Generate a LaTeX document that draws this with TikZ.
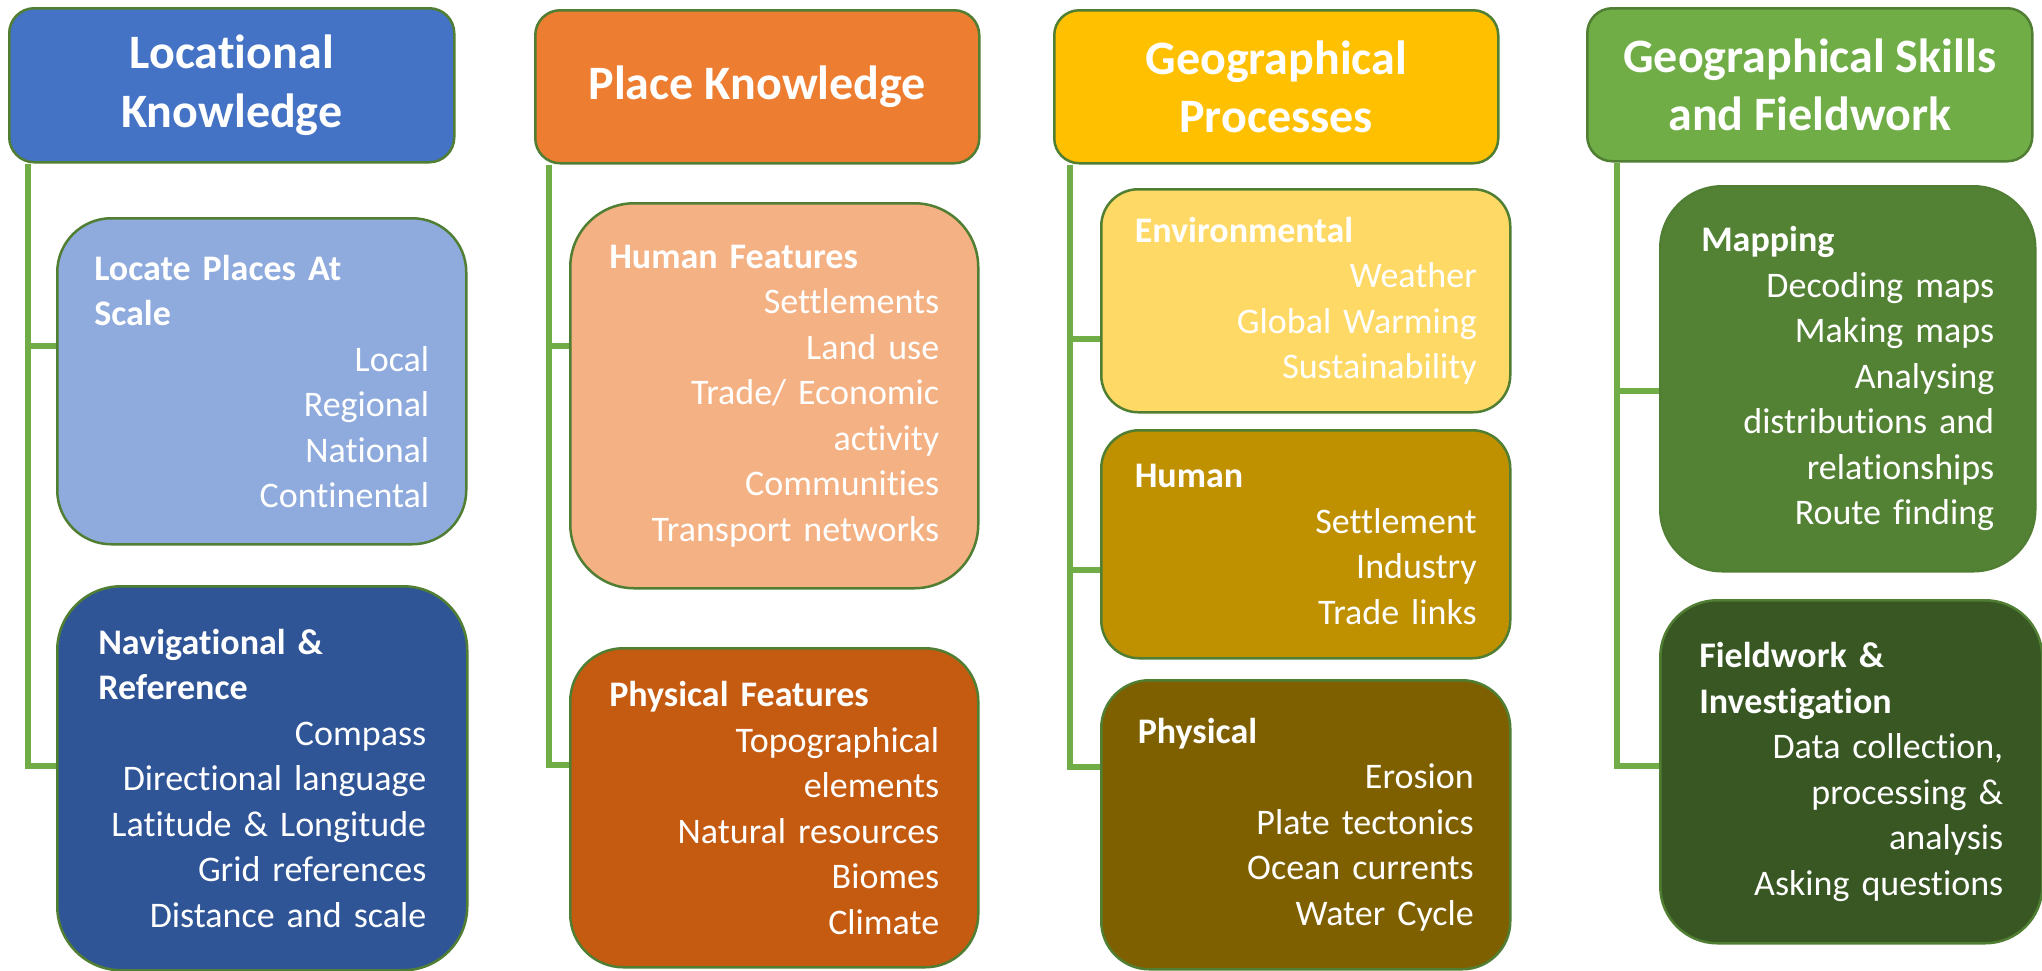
\documentclass[tikz,border=0pt]{standalone}
\usepackage{fontspec}
\setmainfont{Carlito}[Ligatures=NoCommon]
\usetikzlibrary{backgrounds}

\definecolor{edge}{HTML}{507E32}
\definecolor{link}{HTML}{70AD47}
\definecolor{blueH}{HTML}{4472C4}
\definecolor{blueL}{HTML}{8FAADC}
\definecolor{blueD}{HTML}{2F5597}
\definecolor{orangeH}{HTML}{ED7D31}
\definecolor{orangeL}{HTML}{F4B183}
\definecolor{orangeD}{HTML}{C55A11}
\definecolor{goldH}{HTML}{FFC000}
\definecolor{goldL}{HTML}{FFD966}
\definecolor{goldM}{HTML}{BF9000}
\definecolor{goldD}{HTML}{7F6000}
\definecolor{greenH}{HTML}{70AD47}
\definecolor{greenM}{HTML}{548235}
\definecolor{greenD}{HTML}{385723}

% bold left-aligned heading line inside a right-aligned box
\newcommand\boxhead[1]{\makebox[\linewidth][l]{\bfseries #1}}

\begin{document}
\begin{tikzpicture}[x=1pt,y=-1pt,
  header/.style={draw=edge, line width=2.5pt, rounded corners=25pt,
    anchor=north west, inner sep=0pt, text=white, align=center,
    font=\fontsize{48}{58.5}\selectfont\bfseries},
  topic/.style={draw=edge, line width=2.5pt, anchor=north west,
    inner sep=0pt, text=white, align=right,
    font=\fontsize{36}{45.5}\selectfont},
  link/.style={draw=link, line width=5.5pt, line join=miter}]

\useasboundingbox (0,0) rectangle (2042,970);

% column headers
\node[header, fill=blueH, minimum width=445pt, minimum height=154pt] (h1) at (8,7) {Locational\\Knowledge};
\node[header, fill=orangeH, minimum width=444pt, minimum height=153pt] (h2) at (534,9) {Place Knowledge};
\node[header, fill=goldH, minimum width=444pt, minimum height=153pt] (h3) at (1053,9) {Geographical\\Processes};
\node[header, fill=greenH, minimum width=445pt, minimum height=153pt] (h4) at (1586,7) {Geographical Skills\\and Fieldwork};

% locational knowledge
\node[topic, fill=blueL, minimum width=409pt, minimum height=326pt, rounded corners=54pt, text width=335pt] (b11) at (56,217)
  {\boxhead{Locate Places At}\\\boxhead{Scale}\\Local\\Regional\\National\\Continental};
\node[topic, fill=blueD, minimum width=410pt, minimum height=384pt, rounded corners=64pt, text width=328pt] (b12) at (56,585)
  {\boxhead{Navigational \&}\\\boxhead{Reference}\\Compass\\Directional language\\Latitude \& Longitude\\Grid references\\Distance and scale};

% place knowledge
\node[topic, fill=orangeL, minimum width=408pt, minimum height=385pt, rounded corners=64pt, text width=330pt] (b21) at (569,202)
  {\boxhead{Human Features}\\Settlements\\Land use\\Trade/ Economic\\activity\\Communities\\Transport networks};
\node[topic, fill=orangeD, minimum width=408pt, minimum height=319pt, rounded corners=53pt, text width=330pt] (b22) at (569,647)
  {\boxhead{Physical Features}\\Topographical\\elements\\Natural resources\\Biomes\\Climate};

% geographical processes
\node[topic, fill=goldL, minimum width=409pt, minimum height=223pt, rounded corners=37pt, text width=342pt] (b31) at (1100,188)
  {\boxhead{Environmental}\\Weather\\Global Warming\\Sustainability};
\node[topic, fill=goldM, minimum width=409pt, minimum height=228pt, rounded corners=38pt, text width=342pt] (b32) at (1100,429)
  {\boxhead{Human}\\Settlement\\Industry\\Trade links};
\node[topic, fill=goldD, minimum width=409pt, minimum height=289pt, rounded corners=48pt, text width=336pt] (b33) at (1100,679)
  {\boxhead{Physical}\\Erosion\\Plate tectonics\\Ocean currents\\Water Cycle};

% skills and fieldwork
\node[topic, fill=greenM, minimum width=375pt, minimum height=385pt, rounded corners=62pt, text width=293pt] (b41) at (1659,185)
  {\boxhead{Mapping}\\Decoding maps\\Making maps\\Analysing\\distributions and\\relationships\\Route finding};
\node[topic, fill=greenD, minimum width=382pt, minimum height=343pt, rounded corners=57pt, text width=304pt] (b42) at (1659,599)
  {\boxhead{Fieldwork \&}\\\boxhead{Investigation}\\Data collection,\\processing \&\\analysis\\Asking questions};

% branch points under each header and joins on the topic boxes
\coordinate (t1) at ([xshift=20pt]h1.south west);
\coordinate (t2) at ([xshift=15pt]h2.south west);
\coordinate (t3) at ([xshift=17pt]h3.south west);
\coordinate (t4) at ([xshift=31pt]h4.south west);
\coordinate (j11) at (56,346);
\coordinate (j12) at (56,766);
\coordinate (j21) at (569,346);
\coordinate (j22) at (569,765);
\coordinate (j31) at (1100,339);
\coordinate (j32) at (1100,570);
\coordinate (j33) at (1100,767);
\coordinate (j41) at (1659,391);
\coordinate (j42) at (1659,766);

\begin{scope}[on background layer]
  \fill[white] (0,0) rectangle (2042,970);
  \draw[link] (t1) |- (j12);
  \draw[link] (t1) |- (j11);
  \draw[link] (t2) |- (j22);
  \draw[link] (t2) |- (j21);
  \draw[link] (t3) |- (j33);
  \draw[link] (t3) |- (j32);
  \draw[link] (t3) |- (j31);
  \draw[link] (t4) |- (j42);
  \draw[link] (t4) |- (j41);
\end{scope}
\end{tikzpicture}
\end{document}
